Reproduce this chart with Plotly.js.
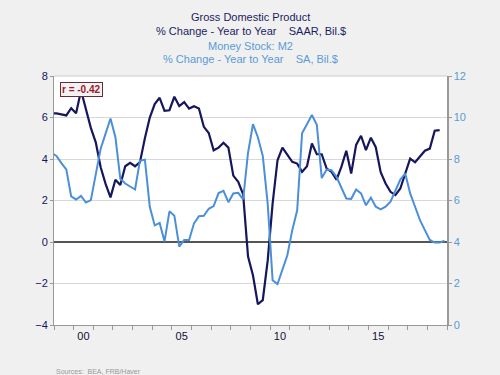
<!DOCTYPE html>
<html>
<head>
<meta charset="utf-8">
<script src="https://cdn.plot.ly/plotly-3.0.1.min.js"></script>
<style>html,body{margin:0;padding:0;background:#f0f0f0;}#chart{width:500px;height:375px;}</style>
</head>
<body>
<div id="chart"></div>
<script>
// Quarterly observations, first quarter 1998Q4
const firstYear = 1998, firstQuarter = 4;
// Nominal GDP, % change year to year (left axis), 1998Q4 .. 2018Q3
const gdpValues = [6.2, 6.2, 6.15, 6.1, 6.45, 6.2, 7.3, 6.35, 5.5, 4.8,
  3.6, 2.8, 2.15, 3.0, 2.75, 3.65, 3.82, 3.65, 3.85, 5.0,
  6.0, 6.65, 6.95, 6.32, 6.35, 7.0, 6.55, 6.74, 6.43, 6.54,
  6.43, 5.55, 5.25, 4.42, 4.55, 4.78, 4.55, 3.2, 2.9, 2.3,
  -0.7, -1.6, -3.0, -2.8, -0.9, 1.85, 3.94, 4.55, 4.18, 3.86,
  3.78, 3.38, 3.65, 4.75, 4.23, 4.23, 3.54, 3.38, 3.0, 3.62,
  4.4, 3.3, 4.68, 5.12, 4.43, 5.03, 4.57, 3.36, 2.82, 2.42,
  2.26, 2.58, 3.3, 4.02, 3.84, 4.13, 4.4, 4.5, 5.36, 5.39];
// Money stock M2, % change year to year (right axis), 1998Q4 .. 2018Q4
const m2Values = [8.3, 8.15, 7.8, 7.5, 6.2, 6.05, 6.22, 5.9, 6.02, 7.3,
  8.5, 9.22, 9.95, 9.05, 7.05, 6.82, 6.66, 6.53, 7.92, 7.97,
  5.7, 4.8, 4.92, 4.03, 5.48, 5.27, 3.78, 4.1, 4.1, 4.9,
  5.24, 5.26, 5.6, 5.73, 6.36, 6.47, 5.92, 6.34, 6.37, 6.05,
  8.3, 9.68, 9.05, 8.15, 5.85, 2.16, 1.97, 2.64, 3.36, 4.57,
  5.53, 9.24, 9.67, 10.12, 9.65, 7.08, 7.49, 7.46, 7.14, 6.58,
  6.1, 6.08, 6.53, 6.34, 5.77, 6.14, 5.7, 5.57, 5.7, 5.94,
  6.5, 7.01, 7.3, 6.34, 5.7, 5.05, 4.57, 4.1, 3.97, 3.97, 4.06];
const xTickYears = [2000, 2005, 2010, 2015];
const xTickLabels = ['00', '05', '10', '15'];
const correlationLabel = 'r = -0.42';

function quarterLabels(n) {
  const out = [];
  let y = firstYear, q = firstQuarter;
  for (let i = 0; i < n; i++) {
    out.push(y + 'Q' + q);
    q++; if (q > 4) { q = 1; y++; }
  }
  return out;
}
function labelToYear(lbl) {
  const y = parseInt(lbl.slice(0, 4), 10), q = parseInt(lbl.slice(5), 10);
  return y + (q - 1) / 4 + 0.125; // mid-quarter
}
const gdpQuarters = quarterLabels(gdpValues.length);
const m2Quarters = quarterLabels(m2Values.length);

const navy = '#16165c';
const blue = '#4a8fd8';
const lightText = '#5b9bd5';

const traces = [
  { x: m2Quarters.map(labelToYear), y: m2Values, yaxis: 'y2', type: 'scatter', mode: 'lines',
    line: { color: blue, width: 2 }, name: 'M2', hoverinfo: 'skip' },
  { x: gdpQuarters.map(labelToYear), y: gdpValues, yaxis: 'y', type: 'scatter', mode: 'lines',
    line: { color: navy, width: 2.2 }, name: 'GDP', hoverinfo: 'skip' }
];

const font = 'Arial, "Liberation Sans", sans-serif';
const nb = '\u00a0\u00a0\u00a0\u00a0';
const layout = {
  width: 500, height: 375,
  paper_bgcolor: '#f0f0f0', plot_bgcolor: '#ffffff',
  margin: { l: 54, r: 53, t: 76, b: 50 },
  showlegend: false,
  font: { family: font, size: 11, color: navy },
  xaxis: {
    range: [1999, 2019],
    tickmode: 'array', tickvals: xTickYears.map(v => v + 0.5), ticktext: xTickLabels,
    ticks: 'outside', ticklen: 1, tickcolor: 'rgba(0,0,0,0)',
    tickfont: { color: '#111133', size: 11, family: font },
    showgrid: false, zeroline: false,
    showline: true, linecolor: '#999999', linewidth: 1,
    minor: { tickmode: 'linear', tick0: 1999, dtick: 1, ticks: 'outside', ticklen: 4, tickcolor: '#999999', showgrid: false }
  },
  yaxis: {
    range: [-4, 8], dtick: 2, tick0: -4,
    ticks: 'outside', ticklen: 3, tickcolor: '#999999',
    tickfont: { color: navy, size: 11, family: font },
    showgrid: true, gridcolor: '#d8d8d8', gridwidth: 1,
    zeroline: true, zerolinecolor: '#555555', zerolinewidth: 1.3,
    showline: true, linecolor: '#999999', linewidth: 1
  },
  yaxis2: {
    overlaying: 'y', side: 'right',
    range: [0, 12], dtick: 2, tick0: 0,
    ticks: 'outside', ticklen: 3, tickcolor: '#999999',
    tickfont: { color: lightText, size: 11, family: font },
    showgrid: false, zeroline: false,
    showline: true, linecolor: '#999999', linewidth: 1.5
  },
  shapes: [
    { type: 'line', xref: 'paper', yref: 'paper', x0: 0, x1: 1, y0: 1, y1: 1,
      line: { color: '#cccccc', width: 1 } }
  ],
  annotations: [
    { text: 'Gross Domestic Product', xref: 'paper', yref: 'paper', x: 0.5, y: (325 - 17) / 249,
      xanchor: 'center', yanchor: 'middle', showarrow: false, font: { color: '#1c1c62', size: 11, family: font } },
    { text: '% Change - Year to Year' + nb + 'SAAR, Bil.$', xref: 'paper', yref: 'paper', x: 0.5, y: (325 - 31) / 249,
      xanchor: 'center', yanchor: 'middle', showarrow: false, font: { color: '#1c1c62', size: 11, family: font } },
    { text: 'Money Stock: M2', xref: 'paper', yref: 'paper', x: 0.5, y: (325 - 46) / 249,
      xanchor: 'center', yanchor: 'middle', showarrow: false, font: { color: lightText, size: 11, family: font } },
    { text: '% Change - Year to Year' + nb + 'SA, Bil.$', xref: 'paper', yref: 'paper', x: 0.5, y: (325 - 59) / 249,
      xanchor: 'center', yanchor: 'middle', showarrow: false, font: { color: lightText, size: 11, family: font } },
    { text: '<b>' + correlationLabel + '</b>', xref: 'paper', yref: 'paper', x: 0.014, y: (325 - 82) / 249,
      xanchor: 'left', yanchor: 'top', showarrow: false,
      font: { color: '#a3162c', size: 10, family: font },
      bgcolor: '#f2f2f2', bordercolor: '#6b2a35', borderwidth: 1, borderpad: 1 },
    { text: 'Sources:\u00a0\u00a0BEA, FRB/Haver', xref: 'paper', yref: 'paper', x: 0, y: (325 - 371) / 249,
      xanchor: 'left', yanchor: 'middle', showarrow: false, font: { color: '#999999', size: 7, family: font } }
  ]
};

Plotly.newPlot('chart', traces, layout, { displayModeBar: false, staticPlot: true });
</script>
</body>
</html>
